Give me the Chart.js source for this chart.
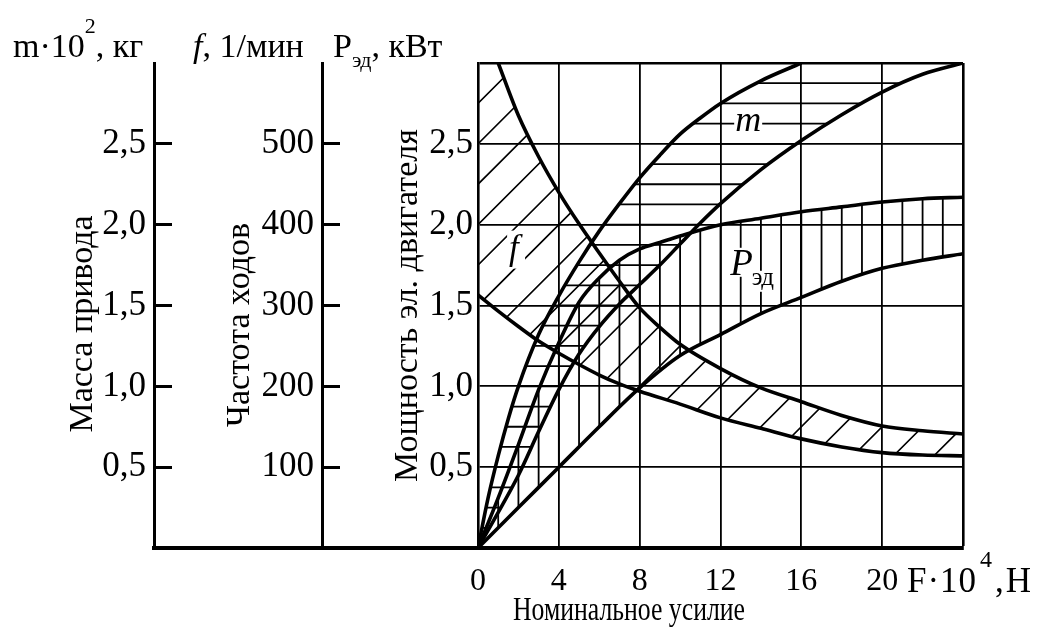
<!DOCTYPE html>
<html>
<head>
<meta charset="utf-8">
<style>
html,body{margin:0;padding:0;background:#fff;}
canvas{display:block;}
</style>
<script src="https://cdn.jsdelivr.net/npm/chart.js@4.4.1/dist/chart.umd.min.js"></script>
</head>
<body>
<canvas id="c" width="1053" height="633"></canvas>
<script>
const FONT = "'Liberation Serif', 'Times New Roman', serif";

// ---- tick labels ----
const forceTicks = [0, 4, 8, 12, 16, 20];          // F·10^4, Н
const powerTicks = [0.5, 1.0, 1.5, 2.0, 2.5];       // Pэд, кВт
const massTicks  = [0.5, 1.0, 1.5, 2.0, 2.5];       // m·10^2, кг
const freqTicks  = [100, 200, 300, 400, 500];       // f, 1/мин

// ---- f (частота ходов), upper and lower bounds ----
const fUpperF   = [1, 2, 3, 4, 5, 6, 7, 8, 9, 10, 12, 14, 16, 18, 20, 22, 24];
const fUpperVal = [600, 535, 484, 440, 401, 365, 330, 297, 273, 252, 222, 198, 181, 164, 151, 145, 141];
const fLowerF   = [0, 1, 2, 3, 4, 5, 6, 7, 8, 10, 12, 14, 16, 18, 20, 22, 24];
const fLowerVal = [313, 293, 274, 256, 241, 227, 214, 203, 194, 178, 161, 148, 135, 125, 118, 115, 114];

// ---- m (масса привода), upper and lower bounds ----
const mUpperF   = [0, 0.5, 1, 1.5, 2, 3, 4, 5, 6, 7, 8, 9, 10, 11, 12, 14, 16];
const mUpperVal = [0, 0.31, 0.57, 0.80, 1.0, 1.32, 1.56, 1.77, 1.96, 2.13, 2.29, 2.43, 2.56, 2.66, 2.75, 2.89, 3.0];
const mLowerF   = [0, 1, 2, 3, 4, 5, 6, 7, 8, 9, 10, 11, 12, 14, 16, 18, 20, 22, 24];
const mLowerVal = [0, 0.22, 0.45, 0.72, 0.98, 1.20, 1.37, 1.51, 1.63, 1.75, 1.88, 2.01, 2.13, 2.34, 2.52, 2.68, 2.82, 2.93, 3.0];

// ---- Pэд (мощность эл. двигателя), upper and lower bounds ----
const pUpperF   = [0, 1, 2, 3, 4, 5, 6, 7, 8, 9, 10, 12, 14, 16, 18, 20, 22, 24];
const pUpperVal = [0, 0.31, 0.64, 0.98, 1.27, 1.52, 1.67, 1.78, 1.85, 1.89, 1.93, 2.0, 2.04, 2.08, 2.11, 2.14, 2.16, 2.17];
const pLowerF   = [0, 2, 4, 6, 8, 10, 12, 14, 16, 18, 20, 22, 24];
const pLowerVal = [0, 0.25, 0.5, 0.75, 0.99, 1.19, 1.32, 1.45, 1.55, 1.65, 1.73, 1.78, 1.82];

const xy = (xs, ys) => xs.map((x, i) => ({x: x, y: ys[i]}));
const fmt = v => v.toFixed(1).replace('.', ',');

function curve(label, xs, ys, axis) {
  return {
    label: label, data: xy(xs, ys), yAxisID: axis,
    borderColor: '#000', borderWidth: 3.6, pointRadius: 0,
    cubicInterpolationMode: 'monotone', fill: false
  };
}

function trace(ctx, pts) {
  pts.forEach((p, i) => {
    if (i === 0) { ctx.moveTo(p.x, p.y); return; }
    const q = pts[i - 1];
    if (q.cp2x !== undefined && p.cp1x !== undefined) {
      ctx.bezierCurveTo(q.cp2x, q.cp2y, p.cp1x, p.cp1y, p.x, p.y);
    } else {
      ctx.lineTo(p.x, p.y);
    }
  });
}

function boxedText(ctx, text, x, y, font, align) {
  ctx.font = font;
  ctx.textAlign = align || 'left';
  ctx.textBaseline = 'alphabetic';
  const m = ctx.measureText(text);
  const l = x - m.actualBoundingBoxLeft, r = x + m.actualBoundingBoxRight;
  const t = y - m.actualBoundingBoxAscent, b = y + m.actualBoundingBoxDescent;
  ctx.fillStyle = '#fff';
  ctx.fillRect(l - 2, t - 2, r - l + 4, b - t + 4);
  ctx.fillStyle = '#000';
  ctx.fillText(text, x, y);
  return m.width;
}

// label anchors (in axis units)
const mLabelPos = {F: 13.37, v: 2.625};
const fLabelPos = {F: 1.78, v: 1.79};
const pLabelPos = {F: 12.48, v: 1.69};

const hatchPlugin = {
  id: 'hatch',
  beforeDatasetsDraw(chart) {
    const {ctx, chartArea: ca, scales} = chart;
    const pts = i => {
      const meta = chart.getDatasetMeta(i);
      if (meta.dataset && meta.dataset.updateControlPoints) meta.dataset.updateControlPoints(ca, 'x');
      return meta.data;
    };
    const below = p => {
      const f = p[0], l = p[p.length - 1];
      ctx.beginPath(); trace(ctx, p);
      ctx.lineTo(ca.right + 20, l.y); ctx.lineTo(ca.right + 20, ca.bottom + 20);
      ctx.lineTo(ca.left - 20, ca.bottom + 20); ctx.lineTo(ca.left - 20, f.y);
      ctx.closePath(); ctx.clip();
    };
    const above = p => {
      const f = p[0], l = p[p.length - 1];
      ctx.beginPath(); trace(ctx, p);
      ctx.lineTo(ca.right + 20, l.y); ctx.lineTo(ca.right + 20, ca.top - 20);
      ctx.lineTo(ca.left - 20, ca.top - 20); ctx.lineTo(ca.left - 20, f.y);
      ctx.closePath(); ctx.clip();
    };
    ctx.save();
    ctx.beginPath(); ctx.rect(ca.left, ca.top, ca.right - ca.left, ca.bottom - ca.top); ctx.clip();
    ctx.strokeStyle = '#000';

    // f band: diagonal hatching
    ctx.save();
    below(pts(0)); above(pts(1));
    ctx.lineWidth = 1.6; ctx.beginPath();
    for (let k = -20; k <= 20; k++) {
      const y0 = scales.y.getPixelForValue(k * 0.25);
      ctx.moveTo(ca.left - 1500, y0 + 1500); ctx.lineTo(ca.left + 1500, y0 - 1500);
    }
    ctx.stroke(); ctx.restore();

    // m band: horizontal hatching
    ctx.save();
    below(pts(2)); above(pts(3));
    ctx.lineWidth = 1.8; ctx.beginPath();
    for (let k = 1; k < 24; k++) {
      const y = scales.yM.getPixelForValue(k * 0.125);
      ctx.moveTo(ca.left, y); ctx.lineTo(ca.right, y);
    }
    ctx.stroke(); ctx.restore();

    // P band: vertical hatching
    ctx.save();
    below(pts(4)); above(pts(5));
    ctx.lineWidth = 1.8; ctx.beginPath();
    for (let k = 1; k < 24; k++) {
      const x = scales.x.getPixelForValue(k);
      ctx.moveTo(x, ca.top); ctx.lineTo(x, ca.bottom);
    }
    ctx.stroke(); ctx.restore();

    // in-plot labels
    const mx = scales.x.getPixelForValue(mLabelPos.F), my = scales.yM.getPixelForValue(mLabelPos.v);
    boxedText(ctx, 'm', mx, my + 7, `italic 36px ${FONT}`, 'center');
    const fx = scales.x.getPixelForValue(fLabelPos.F), fy = scales.y.getPixelForValue(fLabelPos.v);
    boxedText(ctx, 'f', fx, fy, `italic 35px ${FONT}`, 'center');
    const px = scales.x.getPixelForValue(pLabelPos.F), py = scales.y.getPixelForValue(pLabelPos.v);
    const w = boxedText(ctx, 'P', px, py, `italic 37px ${FONT}`, 'left');
    boxedText(ctx, 'эд', px + w - 1, py + 10, `25px ${FONT}`, 'left');
    ctx.restore();
  }
};

function rich(ctx, x, y, parts) {
  ctx.textAlign = 'left'; ctx.textBaseline = 'alphabetic'; ctx.fillStyle = '#000';
  parts.forEach(p => {
    ctx.font = p.font;
    ctx.letterSpacing = p.ls || '0px';
    const px = p.x !== undefined ? p.x : x;
    ctx.fillText(p.t, px, y + (p.dy || 0));
    x = px + ctx.measureText(p.t).width;
  });
  ctx.letterSpacing = '0px';
}

const textPlugin = {
  id: 'texts',
  afterDraw(chart) {
    const {ctx, chartArea: ca, scales} = chart;
    ctx.save();
    // extension of the base line under the left axes
    ctx.strokeStyle = '#000'; ctx.lineWidth = 4;
    ctx.beginPath();
    ctx.moveTo(scales.yM.right - 2, scales.x.top); ctx.lineTo(ca.left, scales.x.top);
    ctx.stroke();

    const N = `34px ${FONT}`, I = `italic 34px ${FONT}`, S = `22px ${FONT}`;
    rich(ctx, 13, 57, [{t: 'm·10', font: N}, {t: '2', font: S, dy: -24}, {t: ', кг', font: N}]);
    rich(ctx, 193, 57, [{t: 'f', font: I}, {t: ', 1/мин', font: N}]);
    rich(ctx, 333, 57, [{t: 'P', font: N}, {t: 'эд', font: S, dy: 10}, {t: ', кВт', font: N}]);

    // x-axis unit label at the last tick
    const B = `35px ${FONT}`;
    rich(ctx, 907, 592, [{t: 'F·10', font: B, x: 907, ls: '1px'},
                         {t: '4', font: `24px ${FONT}`, dy: -25, x: 980}, {t: ',Н', font: B, x: 995, ls: '2px'}]);

    // x-axis title (condensed)
    ctx.save();
    ctx.translate(629, 620); ctx.scale(0.78, 1);
    ctx.font = `33px ${FONT}`; ctx.textAlign = 'center'; ctx.textBaseline = 'alphabetic';
    ctx.fillText('Номинальное усилие', 0, 0);
    ctx.restore();

    // rotated titles of the two outer axes
    const rot = (text, bx, cy) => {
      ctx.save(); ctx.translate(bx, cy); ctx.rotate(-Math.PI / 2);
      ctx.font = `34px ${FONT}`; ctx.textAlign = 'center'; ctx.textBaseline = 'alphabetic';
      ctx.fillText(text, 0, 0); ctx.restore();
    };
    rot('Масса привода', 92, 324);
    rot('Частота ходов', 249, 325);
    ctx.restore();
  }
};

const tickFont = {family: FONT, size: 35};

new Chart(document.getElementById('c'), {
  type: 'line',
  data: {
    datasets: [
      curve('f max', fUpperF, fUpperVal, 'yF'),
      curve('f min', fLowerF, fLowerVal, 'yF'),
      curve('m max', mUpperF, mUpperVal, 'yM'),
      curve('m min', mLowerF, mLowerVal, 'yM'),
      curve('Pэд max', pUpperF, pUpperVal, 'y'),
      curve('Pэд min', pLowerF, pLowerVal, 'y')
    ]
  },
  options: {
    responsive: false, animation: false, devicePixelRatio: 1,
    layout: {padding: {left: 0, top: 63, right: 90, bottom: 0}},
    plugins: {legend: {display: false}, tooltip: {enabled: false}},
    scales: {
      x: {
        type: 'linear', position: 'bottom', min: 0, max: 24,
        afterFit: s => { s.height = 85; },
        ticks: {stepSize: 4, autoSkip: false, maxRotation: 0, padding: 14, color: '#000',
                font: {family: FONT, size: 32},
                callback: v => forceTicks.includes(v) ? String(v) : ''},
        grid: {color: '#000', drawTicks: false, lineWidth: c => (c.tick && c.tick.value === 24) ? 2.6 : 1.8},
        border: {display: true, color: '#000', width: 4}
      },
      y: {
        type: 'linear', position: 'left', weight: 0, min: 0, max: 3,
        afterFit: s => { s.width = 156; },
        ticks: {stepSize: 0.5, padding: 5, color: '#000', font: tickFont,
                callback: v => powerTicks.includes(v) ? fmt(v) : ''},
        grid: {color: '#000', drawTicks: false, lineWidth: c => (c.tick && c.tick.value === 3) ? 2.6 : 1.8},
        border: {display: true, color: '#000', width: 2.6},
        title: {display: true, text: 'Мощность эл. двигателя', color: '#000',
                font: {family: FONT, size: 34}, padding: {top: 66, bottom: 0}}
      },
      yF: {
        type: 'linear', position: 'left', weight: 1, min: 0, max: 600,
        afterFit: s => { s.width = 168; },
        afterBuildTicks: s => { s.ticks = freqTicks.map(v => ({value: v})); },
        ticks: {padding: 26, color: '#000', font: tickFont, callback: v => String(v)},
        grid: {drawOnChartArea: false, drawTicks: true, tickLength: -18, tickWidth: 3, tickColor: '#000'},
        border: {display: true, color: '#000', width: 3}
      },
      yM: {
        type: 'linear', position: 'left', weight: 2, min: 0, max: 3,
        afterFit: s => { s.width = 154; },
        afterBuildTicks: s => { s.ticks = massTicks.map(v => ({value: v})); },
        ticks: {padding: 26, color: '#000', font: tickFont, callback: v => fmt(v)},
        grid: {drawOnChartArea: false, drawTicks: true, tickLength: -18, tickWidth: 3, tickColor: '#000'},
        border: {display: true, color: '#000', width: 3}
      }
    }
  },
  plugins: [hatchPlugin, textPlugin]
});
</script>
</body>
</html>
